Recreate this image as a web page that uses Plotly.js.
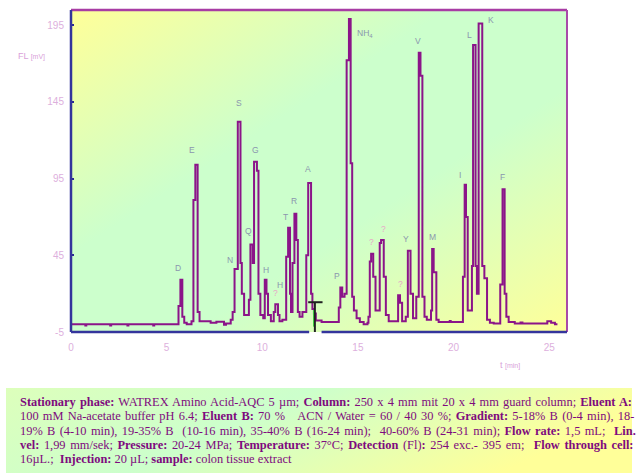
<!DOCTYPE html>
<html>
<head>
<meta charset="utf-8">
<script src="https://cdn.plot.ly/plotly-3.0.1.min.js"></script>
<style>html,body{margin:0;padding:0;background:#fff;}#chart{width:636px;height:474px;}</style>
</head>
<body>
<div id="chart"></div>
<script>
// Retention time [min]
const time = [0.05, 0.75, 0.8, 2.05, 2.1, 2.95, 3.0, 4.3, 4.35, 5.55, 5.62, 5.72, 5.82, 5.92, 6.05, 6.3, 6.4, 6.5, 6.62, 6.72, 7.3, 7.6, 8.0, 8.1, 8.35, 8.45, 8.55, 8.72, 8.86, 8.93, 9.05, 9.3, 9.38, 9.5, 9.57, 9.72, 9.8, 9.9, 10.05, 10.13, 10.22, 10.3, 10.45, 10.6, 10.68, 10.82, 10.9, 11.05, 11.25, 11.35, 11.45, 11.5, 11.58, 11.68, 11.78, 11.86, 11.95, 12.1, 12.3, 12.4, 12.55, 12.62, 12.7, 12.8, 13.1, 13.9, 14.0, 14.08, 14.18, 14.3, 14.41, 14.53, 14.62, 14.7, 14.79, 14.93, 15.1, 15.3, 15.5, 15.55, 15.62, 15.69, 15.8, 15.92, 16.14, 16.21, 16.35, 16.46, 16.61, 16.9, 17.1, 17.2, 17.31, 17.5, 17.61, 17.75, 17.88, 18.05, 18.18, 18.27, 18.37, 18.48, 18.6, 18.82, 18.88, 18.96, 19.1, 19.22, 19.8, 19.85, 20.4, 20.49, 20.58, 20.65, 20.74, 20.96, 21.02, 21.15, 21.22, 21.31, 21.5, 21.61, 21.75, 21.9, 22.1, 22.44, 22.56, 22.67, 22.76, 22.88, 23.2, 23.5, 23.6, 24.9, 25.1, 25.3, 25.43];
// Fluorescence signal [mV]
const signal = [0, -0.8, 0, -0.8, 0, -0.8, 0, -0.8, 0, 0, 12, 29, 5, 1, 0, 2, 81, 104, 8, 2, 1, 1.6, -0.2, 0.5, 3, 8, 36, 132, 40, 20, 6, 16, 52, 40, 106, 100, 20, 6, 4, 29, 20, 6, 2, 8, 13, 6, 2, 3, 44, 63, 20, 8, 40, 72, 55, 8, 5, 8, 45, 92, 20, 10, 7, 2.5, 1.5, 1.5, 11, 24, 18, 20, 172, 199, 105, 18, 9, 4, 1.5, 0, 1, 5, 41, 46, 31, 9, 53, 55, 31, 6, 2, 2, 19, 14, 2, 5, 48, 20, 4, 18, 177, 162, 18, 5, 3, 9, 49, 34, 3, 1.5, 2.2, 1.5, 1.5, 31, 91, 70, 9, 38, 182, 38, 20, 196, 38, 30, 3, 1, 0.5, 26, 88, 20, 5, 1.5, 0.5, 1.2, 0.5, 2, 1, 0, 0];

// Peak labels
const labelText = ['D', 'E', 'N', 'S', 'Q', 'G', 'H', '?', 'H', 'T', 'R', 'A', 'P', 'NH<sub>4</sub>', '?', '?', '?', 'Y', 'V', 'M', 'I', 'L', 'K', 'F'];
const labelT = [5.6, 6.3, 8.3, 8.8, 9.29, 9.62, 10.19, 10.7, 10.92, 11.22, 11.66, 12.37, 13.88, 15.35, 15.69, 16.32, 17.22, 17.5, 18.13, 18.91, 20.35, 20.83, 21.96, 22.56];
const labelV = [37, 113.5, 42.2, 143.9, 60.6, 113.9, 35.7, 20.4, 25.4, 70, 80.2, 100.9, 31.3, 189.6, 53.7, 62.4, 26.1, 55.9, 184.7, 56.9, 97.6, 188.4, 198.6, 96];
const labelUnknown = [false, false, false, false, false, false, false, true, false, false, false, false, false, false, true, true, true, false, false, false, false, false, false, false];

// Axis ticks
const xTicks = [0, 5, 10, 15, 20, 25];
const yTicks = [-5, 45, 95, 145, 195];

// Caption lines (first four are justified in the reference)
const captionLines = [
  '<b>Stationary phase:</b> WATREX Amino Acid-AQC 5 µm; <b>Column:</b> 250 x 4 mm mit 20 x 4 mm guard column; <b>Eluent A:</b>',
  '100 mM Na-acetate buffer pH 6.4; <b>Eluent B:</b> 70 %   ACN / Water = 60 / 40 30 %; <b>Gradient:</b> 5-18% B (0-4 min), 18-',
  '19% B (4-10 min), 19-35% B  (10-16 min), 35-40% B (16-24 min);  40-60% B (24-31 min); <b>Flow rate:</b> 1,5 mL;  <b>Lin.</b>',
  '<b>vel:</b> 1,99 mm/sek; <b>Pressure:</b> 20-24 MPa; <b>Temperature:</b> 37°C; <b>Detection</b> (Fl)<b>:</b> 254 exc.- 395 em;  <b>Flow through cell:</b>',
  '16µL.;  <b>Injection:</b> 20 µL; <b>sample:</b> colon tissue extract'
];
const captionJustify = [true, true, true, true, false];

function svgUri(w, h, stops, x1, y1, x2, y2) {
  const st = stops.map(s => `<stop offset='${s[0]}' stop-color='${s[1]}'/>`).join('');
  const svg = `<svg xmlns='http://www.w3.org/2000/svg' width='${w}' height='${h}' viewBox='0 0 ${w} ${h}' preserveAspectRatio='none'><defs><linearGradient id='g' x1='${x1}' y1='${y1}' x2='${x2}' y2='${y2}'>${st}</linearGradient></defs><rect width='${w}' height='${h}' fill='url(#g)'/></svg>`;
  return 'data:image/svg+xml;charset=utf-8,' + encodeURIComponent(svg);
}

const plotL = 71, plotR = 567, plotT = 10, plotB = 332;
const W = 636, H = 474;
const pw = plotR - plotL, ph = plotB - plotT;
const px = x => (x - plotL) / pw;
const py = y => (plotB - y) / ph;
const capLeft = 18, capRight = 632;

const trace = {
  x: time, y: signal, type: 'scatter', mode: 'lines',
  line: {shape: 'hv', color: '#8B1489', width: 2},
  hoverinfo: 'skip', showlegend: false
};

const annotations = labelText.map((t, i) => ({
  x: labelT[i], y: labelV[i], xref: 'x', yref: 'y', text: t, showarrow: false,
  xanchor: 'center', yanchor: 'middle',
  font: {family: 'Liberation Sans, Arial, sans-serif', size: 8.5, color: labelUnknown[i] ? '#E8A6C8' : '#8A96AE'}
}));

annotations.push({
  xref: 'paper', yref: 'paper', x: px(31), y: py(56), xanchor: 'center', yanchor: 'middle', showarrow: false,
  text: "FL <span style='font-size:7px'>[mV]</span>",
  font: {family: 'Liberation Sans, Arial, sans-serif', size: 9, color: '#D9A2D9'}
});
annotations.push({
  xref: 'paper', yref: 'paper', x: px(510), y: py(365), xanchor: 'center', yanchor: 'middle', showarrow: false,
  text: "t <span style='font-size:7px'>[min]</span>",
  font: {family: 'Liberation Sans, Arial, sans-serif', size: 9, color: '#D9A2D9'}
});

const captionStart = annotations.length;
const lineY = [402, 416.3, 430.6, 444.9, 459.2];
captionLines.forEach((txt, i) => {
  annotations.push({
    xref: 'paper', yref: 'paper', x: px(capLeft), y: py(lineY[i]), xanchor: 'left', yanchor: 'middle', showarrow: false,
    align: 'left', text: txt,
    font: {family: 'Liberation Serif, Times New Roman, serif', size: 12.4, color: '#7E0A7E'}
  });
});

const shapes = [
  // frame
  {type: 'line', xref: 'paper', yref: 'paper', x0: 0, x1: 1, y0: 1, y1: 1, line: {color: '#A83CA4', width: 2.5}},
  {type: 'line', xref: 'paper', yref: 'paper', x0: 1, x1: 1, y0: 0, y1: 1, line: {color: '#A84AA8', width: 2}},
  {type: 'line', xref: 'paper', yref: 'paper', x0: 0, x1: 0, y0: 0, y1: 1, line: {color: '#34349C', width: 2.5}},
  {type: 'line', xref: 'x', yref: 'paper', x0: 0, x1: 12.45, y0: 0, y1: 0, line: {color: '#34349C', width: 2.5}},
  {type: 'line', xref: 'x', yref: 'paper', x0: 13.1, x1: 25.93, y0: 0, y1: 0, line: {color: '#34349C', width: 2.5}},
  // injection / switch marker
  {type: 'line', xref: 'x', yref: 'y', x0: 12.69, x1: 12.69, y0: 9.3, y1: -1.5, line: {color: '#44DD44', width: 1.5}},
  {type: 'line', xref: 'x', yref: 'y', x0: 12.75, x1: 12.75, y0: 14.4, y1: -6, line: {color: '#222222', width: 2}},
  {type: 'line', xref: 'x', yref: 'y', x0: 12.4, x1: 13.15, y0: 14.4, y1: 14.4, line: {color: '#222222', width: 2}}
];

const layout = {
  width: W, height: H,
  margin: {l: plotL, r: W - plotR, t: plotT, b: H - plotB, pad: 0},
  paper_bgcolor: '#ffffff', plot_bgcolor: 'rgba(0,0,0,0)',
  showlegend: false,
  xaxis: {
    range: [0, 25.93], showgrid: false, zeroline: false, showline: false,
    tickmode: 'array', tickvals: xTicks, ticktext: xTicks.map(String), ticks: '',
    ticklabelstandoff: 8,
    tickfont: {family: 'Liberation Sans, Arial, sans-serif', size: 10, color: '#DDB0DD'}
  },
  yaxis: {
    range: [-5, 204.8], showgrid: false, zeroline: false, showline: false,
    tickmode: 'array', tickvals: yTicks, ticktext: yTicks.map(String),
    ticks: 'inside', ticklen: 3, tickwidth: 2, tickcolor: '#2A2A90',
    ticklabelstandoff: 6,
    tickfont: {family: 'Liberation Sans, Arial, sans-serif', size: 10, color: '#DDB0DD'}
  },
  images: [
    {source: svgUri(496, 322, [[0, '#FFFF99'], [0.38, '#CCFFCC'], [0.62, '#CCFFCC'], [1, '#FFFF99']], 0, 0, 1, 1),
     xref: 'paper', yref: 'paper', x: 0, y: 1, sizex: 1, sizey: 1, sizing: 'stretch', layer: 'below', xanchor: 'left', yanchor: 'top'},
    {source: svgUri(626, 85, [[0, '#DDFFBB'], [0.45, '#CCFFCC'], [1, '#FFFF99']], 0, 0, 1, 0.3),
     xref: 'paper', yref: 'paper', x: px(6), y: py(388), sizex: (632 - 6) / pw, sizey: (473 - 388) / ph, sizing: 'stretch', layer: 'below', xanchor: 'left', yanchor: 'top'}
  ],
  shapes: shapes,
  annotations: annotations
};

Plotly.newPlot('chart', [trace], layout, {displayModeBar: false, staticPlot: true}).then(gd => {
  // justify the caption lines like the reference paragraph
  const groups = gd.querySelectorAll('.annotation');
  captionLines.forEach((txt, i) => {
    if (!captionJustify[i]) return;
    const g = groups[captionStart + i];
    if (!g) return;
    const textEl = g.querySelector('text.annotation-text');
    if (!textEl) return;
    const box = textEl.getBBox();
    const gaps = (textEl.textContent.match(/ +/g) || []).length;
    const target = capRight - capLeft - 2;
    if (gaps > 0 && box.width < target) {
      textEl.style.wordSpacing = ((target - box.width) / gaps).toFixed(2) + 'px';
    }
  });
});
</script>
</body>
</html>
